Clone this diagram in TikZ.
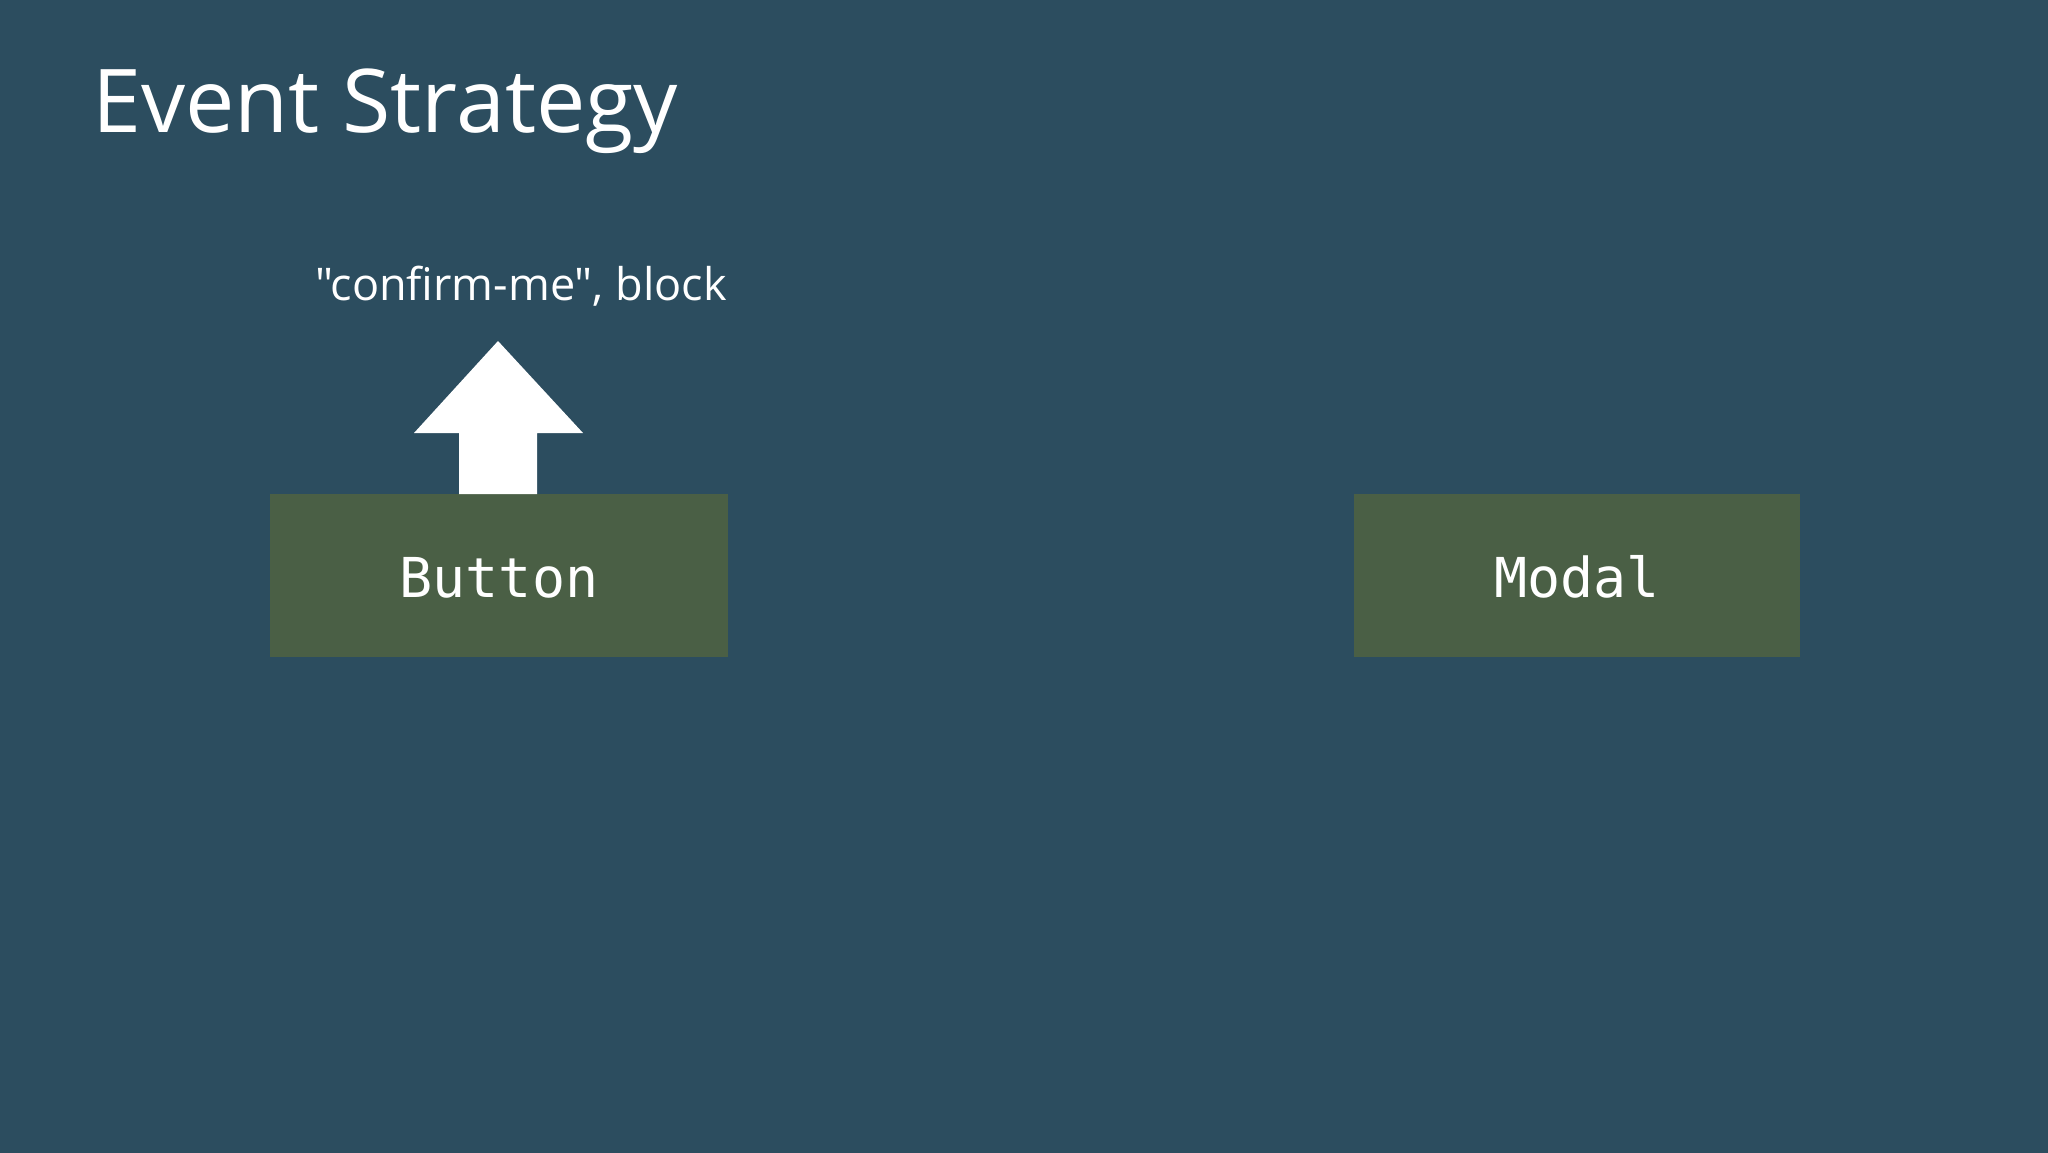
\documentclass[tikz,border=0pt]{standalone}
\usepackage{fontspec}
\setmainfont{Open Sans}
\newfontfamily\labelfont{Open Sans}
\newfontfamily\monofont{DejaVu Sans Mono}
\definecolor{bgcol}{HTML}{2C4D5F}
\definecolor{boxcol}{HTML}{4A5F45}
\begin{document}
\begin{tikzpicture}[x=1pt,y=-1pt,
  comp/.style={fill=boxcol, draw=none, anchor=north west, inner sep=0pt},
  comptext/.style={text=white, inner sep=0pt, anchor=base, font=\monofont\fontsize{55}{66}\selectfont},
  lbl/.style={text=white, inner sep=0pt, anchor=base}]
\useasboundingbox (0,0) rectangle (2048,1152);
\fill[bgcol] (-4,-4) rectangle (2052,1156);
\node[lbl, anchor=base west, font=\fontsize{88}{100}\selectfont] (title) at (92,132) {Event Strategy};
\node[comp, minimum width=458pt, minimum height=163pt] (button) at (270,494) {};
\node[comptext] (buttontext) at (499,597) {Button};
\node[comp, minimum width=446pt, minimum height=163pt] (modal) at (1354,494) {};
\node[comptext] (modaltext) at (1577,597) {Modal};
\node[lbl, font=\labelfont\fontsize{45}{54}\selectfont] (event) at (521,300) {"confirm-me", block};
\coordinate (tip) at (498,341);
\fill[white] (459,494) -- (459,433) -- (414,433) -- (tip) -- (583,433) -- (537,433) -- (537,494) -- cycle;
\end{tikzpicture}
\end{document}
